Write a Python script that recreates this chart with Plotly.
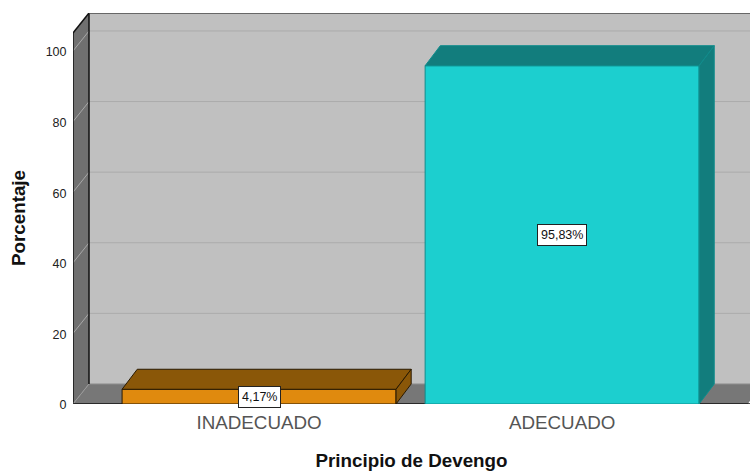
import plotly.graph_objects as go

categories = ["INADECUADO", "ADECUADO"]
values = [4.17, 95.83]
labels = ["4,17%", "95,83%"]
y_ticks = [0, 20, 40, 60, 80, 100]
x_title = "Principio de Devengo"
y_title = "Porcentaje"

front_colors = ["#E08A0E", "#1CCFCF"]
dark_colors = ["#8A5708", "#127D7D"]
edge_colors = ["#2A1A02", "#0F8C8C"]

# 3D look: oblique offset of the back plane, in axis units
DX, DY = 0.0528, 5.67
BAR_DX = 0.05
BW = 0.904
X0, X1 = -0.614, 1.62
Y1 = 110.76
WALL_TOP = Y1
FRONT_TOP = Y1 - DY

def poly(pts):
    return "M " + " L ".join(f"{x},{y}" for x, y in pts) + " Z"

shapes = []
def add_poly(pts, fill, line=None, w=0):
    shapes.append(dict(type="path", path=poly(pts), xref="x", yref="y", layer="below",
                       fillcolor=fill, line=dict(color=line or fill, width=w)))
def add_line(a, b, color, w=1):
    shapes.append(dict(type="line", x0=a[0], y0=a[1], x1=b[0], y1=b[1], xref="x", yref="y",
                       layer="below", line=dict(color=color, width=w)))

bx = X0 + DX
add_poly([(bx, DY), (X1, DY), (X1, WALL_TOP), (bx, WALL_TOP)], "#C0C0C0")
add_poly([(X0, 0), (bx, DY), (bx, WALL_TOP), (X0, FRONT_TOP)], "#707070")
add_poly([(X0, 0), (bx, DY), (X1, DY), (X1, 0.9), (X1 - 0.007, 0)], "#777777")
for t in y_ticks[1:]:
    add_line((bx, t + DY), (X1, t + DY), "#ABABAB", 1)
    add_line((X0, t), (bx, t + DY), "#A8A8A8", 1)
add_line((bx, DY), (X1, DY), "#8E8E8E", 1)
add_line((X0, 0), (X0, FRONT_TOP), "#111111", 1.5)
add_line((bx, DY), (bx, WALL_TOP), "#111111", 1.5)
add_line((X0, FRONT_TOP), (bx, WALL_TOP), "#111111", 1.5)
add_line((bx, WALL_TOP), (X1, WALL_TOP), "#4A4A4A", 1.5)
add_line((X0, 0), (bx, DY), "#999999", 1)
add_line((X0, 0), (X1, 0), "#111111", 1.5)

xs = list(range(len(categories)))
fig = go.Figure()
fig.add_trace(go.Bar(x=xs, y=values, width=BW, marker=dict(color=front_colors,
                     line=dict(color=edge_colors, width=1)), hoverinfo="skip"))

for i, v in zip(xs, values):
    l, r = i - BW / 2, i + BW / 2
    faces = [[(l, v), (l + BAR_DX, v + DY), (r + BAR_DX, v + DY), (r, v), (l, v)],
             [(r, 0), (r + BAR_DX, DY), (r + BAR_DX, v + DY), (r, v), (r, 0)]]
    for f in faces:
        fig.add_trace(go.Scatter(x=[p[0] for p in f], y=[p[1] for p in f], mode="lines",
                                 fill="toself", fillcolor=dark_colors[i],
                                 line=dict(color=edge_colors[i], width=1),
                                 hoverinfo="skip", cliponaxis=False))

annotations = [dict(x=i, y=v / 2, text=t, showarrow=False, xref="x", yref="y",
                    bgcolor="white", bordercolor="#222222", borderwidth=1, borderpad=3,
                    font=dict(family="Liberation Sans", size=12.5, color="#111111"))
               for i, v, t in zip(xs, values, labels)]
annotations.append(dict(x=-55 / 677, y=186 / 391, xref="paper", yref="paper", text=f"<b>{y_title}</b>",
                        textangle=-90, showarrow=False, xanchor="center", yanchor="middle",
                        font=dict(family="Liberation Sans", size=18.8, color="#111111")))

fig.update_layout(
    width=750, height=471, margin=dict(l=73, r=0, t=13, b=67, pad=0),
    paper_bgcolor="white", plot_bgcolor="white", showlegend=False, hovermode=False,
    shapes=shapes, annotations=annotations,
    font=dict(family="Liberation Sans", color="#222222"),
    xaxis=dict(range=[X0, X1], tickvals=xs, ticktext=categories, showgrid=False, zeroline=False,
               showline=False, ticks="", ticklabelstandoff=5,
               tickfont=dict(size=18.8, color="#555555"),
               title=dict(text=x_title, standoff=22,
                          font=dict(size=18.8, color="#111111", weight="bold"))),
    yaxis=dict(range=[0, Y1], tickvals=y_ticks, showgrid=False, zeroline=False, showline=False,
               ticks="outside", ticklen=3, tickcolor="rgba(0,0,0,0)", ticklabelshift=1,
               tickfont=dict(size=12.5, color="#222222")),
)
fig.write_html("out.html", config={"displayModeBar": False},
               post_script="document.body.style.margin='0';document.body.style.overflow='hidden';")
